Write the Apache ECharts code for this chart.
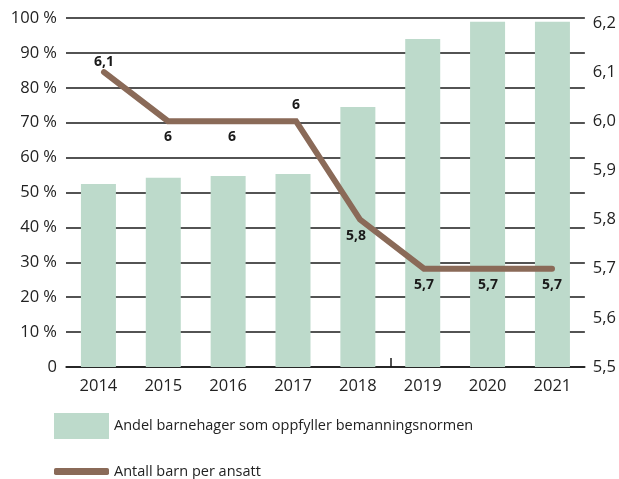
<!DOCTYPE html>
<html>
<head>
    <meta charset="utf-8">
    <title>Bemanningsnorm</title>
    <script src="https://cdn.jsdelivr.net/npm/echarts@6/dist/echarts.min.js"></script>
    <style>
        html, body { margin: 0; padding: 0; background: #fff; }
        #chart { width: 619px; height: 479px; }
    </style>
</head>
<body>
<div id="chart"></div>
<script>
    var years = ['2014', '2015', '2016', '2017', '2018', '2019', '2020', '2021'];
    // andel barnehager som oppfyller normen (%)
    var andel = [52.4, 54.2, 54.7, 55.3, 74.5, 94.0, 98.9, 98.9];
    // antall barn per ansatt
    var barnPerAnsatt = [6.1, 6.0, 6.0, 6.0, 5.8, 5.7, 5.7, 5.7];
    var labelPos = ['top', 'bottom', 'bottom', 'top', 'bottom', 'bottom', 'bottom', 'bottom'];

    var barName = 'Andel barnehager som oppfyller bemanningsnormen';
    var lineName = 'Antall barn per ansatt';

    var font = '"Open Sans", "Noto Sans", sans-serif';

    var chart = echarts.init(document.getElementById('chart'));

    var lineData = barnPerAnsatt.map(function (v, i) {
        var lbl = { position: labelPos[i] };
        if (i === 0) { lbl.offset = [0, 6]; }
        if (i === 4) { lbl.offset = [-4, 0]; }
        return { value: v, label: lbl };
    });

    // hjelpeakse for den ene streken mellom 2018 og 2019
    var borders = years.concat(['']);

    var option = {
        animation: false,
        textStyle: { fontFamily: font },
        grid: [
            { left: 66, right: 34, top: 18, bottom: 112 },
            // linja ligger litt forskjøvet mot høyre i forhold til søylene
            { left: 72, right: 35, top: 18, bottom: 112 }
        ],
        legend: [
            {
                data: [barName],
                left: 54, top: 413,
                padding: 0,
                icon: 'rect',
                itemWidth: 55, itemHeight: 26,
                textStyle: { fontSize: 14.5, color: '#222', fontFamily: font }
            },
            {
                data: [lineName],
                left: 54, top: 464,
                padding: 0,
                icon: 'roundRect',
                itemWidth: 55, itemHeight: 7,
                textStyle: { fontSize: 14.5, color: '#222', fontFamily: font }
            }
        ],
        xAxis: [
            {
                type: 'category',
                data: years,
                axisLine: { lineStyle: { color: '#1a1a1a', width: 1.5 } },
                axisTick: { show: false },
                axisLabel: { fontSize: 16.5, color: '#222', margin: 11 }
            },
            {
                type: 'category',
                data: borders,
                boundaryGap: false,
                position: 'bottom',
                axisLine: { show: false },
                axisLabel: { show: false },
                axisTick: {
                    inside: true, length: 9,
                    lineStyle: { color: '#1a1a1a', width: 1.5 },
                    interval: function (index) { return index === 5; }
                }
            },
            {
                type: 'category',
                gridIndex: 1,
                data: years,
                show: false
            }
        ],
        yAxis: [
            {
                type: 'value',
                min: 0, max: 100, interval: 10,
                axisLine: { show: false },
                axisTick: { show: false },
                splitLine: { lineStyle: { color: '#1a1a1a', width: 1.5 } },
                axisLabel: {
                    fontSize: 16.5, color: '#222', margin: 9,
                    formatter: function (v) { return v === 0 ? '0' : v + ' %'; }
                }
            },
            {
                type: 'value',
                min: 5.5, max: 6.21, interval: 0.1,
                position: 'right',
                axisLine: { show: false },
                axisTick: { show: false },
                splitLine: { show: false },
                axisLabel: {
                    fontSize: 16.5, color: '#222', margin: 8,
                    showMaxLabel: false,
                    formatter: function (v) { return v.toFixed(1).replace('.', ','); }
                }
            },
            {
                type: 'value',
                gridIndex: 1,
                min: 5.5, max: 6.21, interval: 0.1,
                show: false
            }
        ],
        series: [
            {
                name: barName,
                type: 'bar',
                data: andel,
                barWidth: 35,
                itemStyle: { color: '#bddacb' },
                z: 3
            },
            {
                name: lineName,
                type: 'line',
                xAxisIndex: 2,
                yAxisIndex: 2,
                data: lineData,
                symbol: 'circle',
                symbolSize: 0.1,
                showSymbol: true,
                lineStyle: { color: '#8a6a58', width: 6, cap: 'round', join: 'miter' },
                itemStyle: { color: '#8a6a58' },
                z: 4,
                label: {
                    show: true,
                    distance: 9,
                    fontSize: 14,
                    fontWeight: 'bold',
                    color: '#1a1a1a',
                    formatter: function (p) {
                        var v = p.value;
                        return (Math.round(v * 10) % 10 === 0 ? v.toFixed(0) : v.toFixed(1)).replace('.', ',');
                    }
                }
            }
        ]
    };

    chart.setOption(option);
</script>
</body>
</html>
